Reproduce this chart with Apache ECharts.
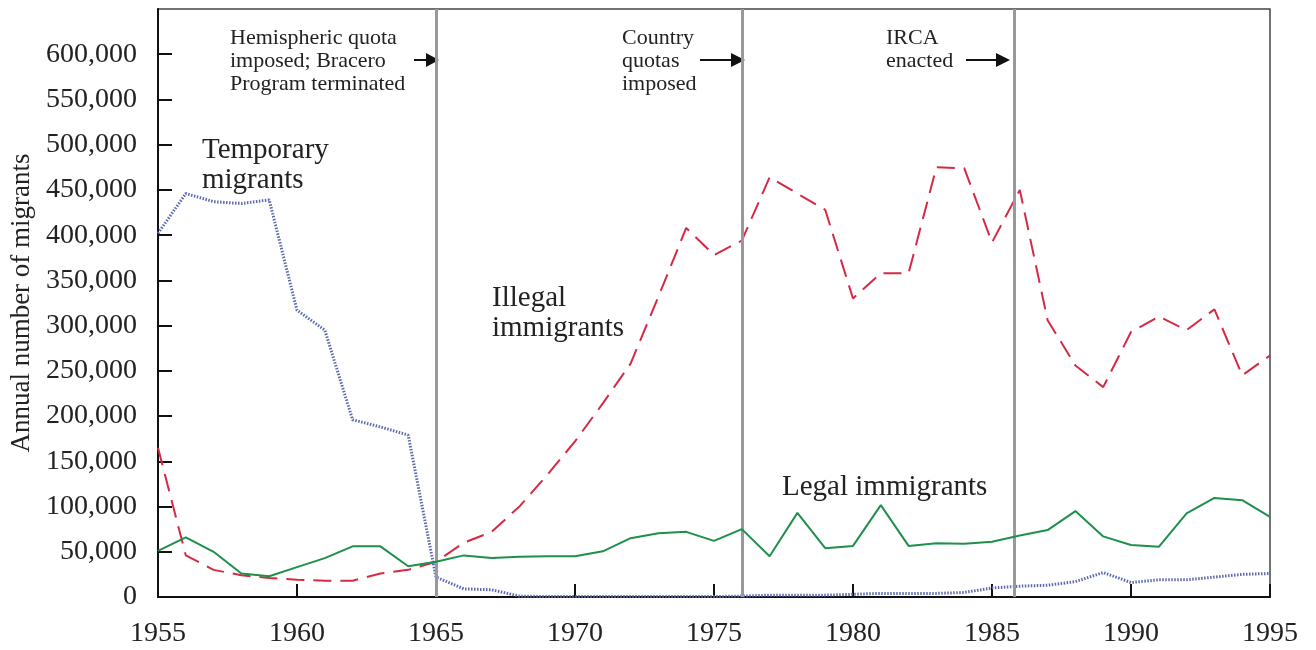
<!DOCTYPE html>
<html>
<head>
<meta charset="utf-8">
<script src="https://cdn.jsdelivr.net/npm/echarts@6/dist/echarts.min.js"></script>
<style>html,body{margin:0;padding:0;background:#fff;}#c{width:1316px;height:650px;}</style>
</head>
<body>
<div id="c"></div>
<script>
const years = [1955,1956,1957,1958,1959,1960,1961,1962,1963,1964,1965,1966,1967,1968,1969,1970,1971,1972,1973,1974,1975,1976,1977,1978,1979,1980,1981,1982,1983,1984,1985,1986,1987,1988,1989,1990,1991,1992,1993,1994,1995];
const temporary = [402000,446000,437000,435000,439000,317000,295000,196000,188000,179000,22000,9000,8000,1000,500,500,500,500,500,500,500,1000,2000,2000,2000,3000,4000,4000,4000,5000,10000,12000,13000,17000,27000,16000,19000,19000,22000,25000,26000];
const illegal = [165000,46000,30000,24000,21000,19000,18000,18000,26000,30000,39000,60000,72000,100000,135000,172000,214000,258000,332000,408000,378000,394000,464000,446000,428000,330000,358000,358000,475000,474000,392000,450000,306000,256000,232000,293000,310000,295000,318000,245000,267000];
const legal = [51000,66000,50000,26000,23000,33000,43000,56000,56000,34000,39000,46000,43000,44500,45000,45000,50500,65000,70500,72000,62000,75000,45000,93000,54000,56500,101500,56500,59500,59000,61000,68000,74000,95000,67000,57500,55500,92500,109500,107000,88500];
const eventYears = [1965, 1976, 1985.8];
const yTicks = [0,50000,100000,150000,200000,250000,300000,350000,400000,450000,500000,550000,600000];
const xTicks = [1955,1960,1965,1970,1975,1980,1985,1990,1995];

const SERIF = '"Liberation Serif", "DejaVu Serif", serif';
const pair = arr => years.map((y,i)=>[y, arr[i]]);
const fmt = v => String(v).replace(/\B(?=(\d{3})+(?!\d))/g, ',');

const chart = echarts.init(document.getElementById('c'));
chart.setOption({
  animation: false,
  backgroundColor: '#fff',
  grid: {left: 158, right: 46, top: 9, bottom: 53, show: true, borderColor: '#444', borderWidth: 1.5},
  xAxis: {
    type: 'value', min: 1955, max: 1995, interval: 5,
    axisLine: {lineStyle: {color: '#111', width: 2}},
    axisTick: {inside: true, length: 13, customValues: xTicks, lineStyle: {color: '#111', width: 2}},
    axisLabel: {customValues: xTicks, formatter: v => String(v), fontFamily: SERIF, fontSize: 28, color: '#222', margin: 23},
    splitLine: {show: false}
  },
  yAxis: {
    type: 'value', min: 0, max: 650000, interval: 50000,
    name: 'Annual number of migrants', nameLocation: 'middle', nameGap: 120,
    nameTextStyle: {fontFamily: SERIF, fontSize: 27, color: '#222'},
    axisLine: {show: true, lineStyle: {color: '#111', width: 2}},
    axisTick: {inside: true, length: 14, customValues: yTicks, lineStyle: {color: '#111', width: 2}},
    axisLabel: {customValues: yTicks, formatter: v => fmt(v), fontFamily: SERIF, fontSize: 28, color: '#222', margin: 21},
    splitLine: {show: false}
  },
  series: [
    {name: 'Temporary migrants', type: 'line', data: pair(temporary), showSymbol: false,
     lineStyle: {color: '#5a68b0', width: 3, type: [1.5, 1.5]}, z: 3},
    {name: 'Illegal immigrants', type: 'line', data: pair(illegal), showSymbol: false,
     lineStyle: {color: '#d42a45', width: 2, type: [18, 9]}, z: 4,
     markLine: {silent: true, symbol: 'none', label: {show: false},
       lineStyle: {color: '#999', width: 3, type: 'solid'},
       data: eventYears.map(y => ({xAxis: y}))}},
    {name: 'Legal immigrants', type: 'line', data: pair(legal), showSymbol: false,
     lineStyle: {color: '#1f8f4c', width: 2}, z: 5}
  ],
  graphic: [
    {type: 'text', left: 230, top: 27, style: {text: 'Hemispheric quota\nimposed; Bracero\nProgram terminated', font: '22px ' + SERIF, fill: '#222', lineHeight: 23}},
    {type: 'text', left: 622, top: 27, style: {text: 'Country\nquotas\nimposed', font: '22px ' + SERIF, fill: '#222', lineHeight: 23}},
    {type: 'text', left: 886, top: 27, style: {text: 'IRCA\nenacted', font: '22px ' + SERIF, fill: '#222', lineHeight: 23}},
    {type: 'line', shape: {x1: 414, y1: 60, x2: 428, y2: 60}, style: {stroke: '#111', lineWidth: 2}},
    {type: 'polygon', shape: {points: [[426, 53], [439, 60], [426, 67]]}, style: {fill: '#111'}},
    {type: 'line', shape: {x1: 700, y1: 60, x2: 733, y2: 60}, style: {stroke: '#111', lineWidth: 2}},
    {type: 'polygon', shape: {points: [[731, 53], [745, 60], [731, 67]]}, style: {fill: '#111'}},
    {type: 'line', shape: {x1: 966, y1: 60, x2: 998, y2: 60}, style: {stroke: '#111', lineWidth: 2}},
    {type: 'polygon', shape: {points: [[996, 53], [1010, 60], [996, 67]]}, style: {fill: '#111'}},
    {type: 'text', left: 202, top: 135, style: {text: 'Temporary\nmigrants', font: '29px ' + SERIF, fill: '#222', lineHeight: 30}},
    {type: 'text', left: 492, top: 283, style: {text: 'Illegal\nimmigrants', font: '29px ' + SERIF, fill: '#222', lineHeight: 30}},
    {type: 'text', left: 782, top: 472, style: {text: 'Legal immigrants', font: '29px ' + SERIF, fill: '#222', lineHeight: 30}}
  ]
});
</script>
</body>
</html>
